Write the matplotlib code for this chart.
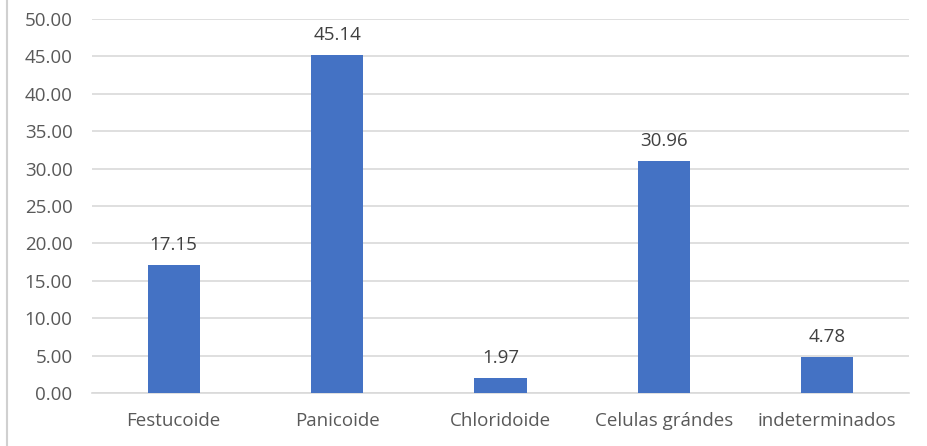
import matplotlib
matplotlib.use("Agg")
import matplotlib.pyplot as plt
from matplotlib.lines import Line2D

categories = ["Festucoide", "Panicoide", "Chloridoide", "Celulas grándes", "indeterminados"]
values = [17.15, 45.14, 1.97, 30.96, 4.78]
yticks = [0, 5, 10, 15, 20, 25, 30, 35, 40, 45, 50]

plt.rcParams['font.family'] = ['Open Sans', 'DejaVu Sans']
fig = plt.figure(figsize=(9.28, 4.46), dpi=100)
ax = fig.add_axes([92/928, 1-393/446, (909-92)/928, (393-19)/446])

x = range(len(categories))
ax.bar(x, values, width=0.32, color="#4472C4", zorder=3)
for xi, v in zip(x, values):
    ax.annotate(f"{v:.2f}", (xi, v), xytext=(0, 8), textcoords="offset points",
                ha="center", va="bottom", fontsize=13.5, color="#404040")

ax.set_xlim(-0.5, len(categories)-0.5)
ax.set_ylim(0, 50)
ax.set_yticks(yticks)
ax.set_yticklabels([f"{t:.2f}" for t in yticks])
ax.set_xticks(list(x))
ax.set_xticklabels(categories)
ax.grid(axis="y", color="#D9D9D9", linewidth=1.2, zorder=0)
for s in ["top", "right", "left"]:
    ax.spines[s].set_visible(False)
ax.spines["bottom"].set_color("#D9D9D9")
ax.spines["bottom"].set_linewidth(1.2)
ax.tick_params(axis="both", length=0, labelsize=13.5, labelcolor="#595959")
ax.tick_params(axis="y", pad=14)
ax.tick_params(axis="x", pad=14)

fig.add_artist(Line2D([7/928, 7/928], [0, 1], transform=fig.transFigure, color="#D0D0D0", linewidth=1.5))

fig.savefig("out.png", dpi=100)
